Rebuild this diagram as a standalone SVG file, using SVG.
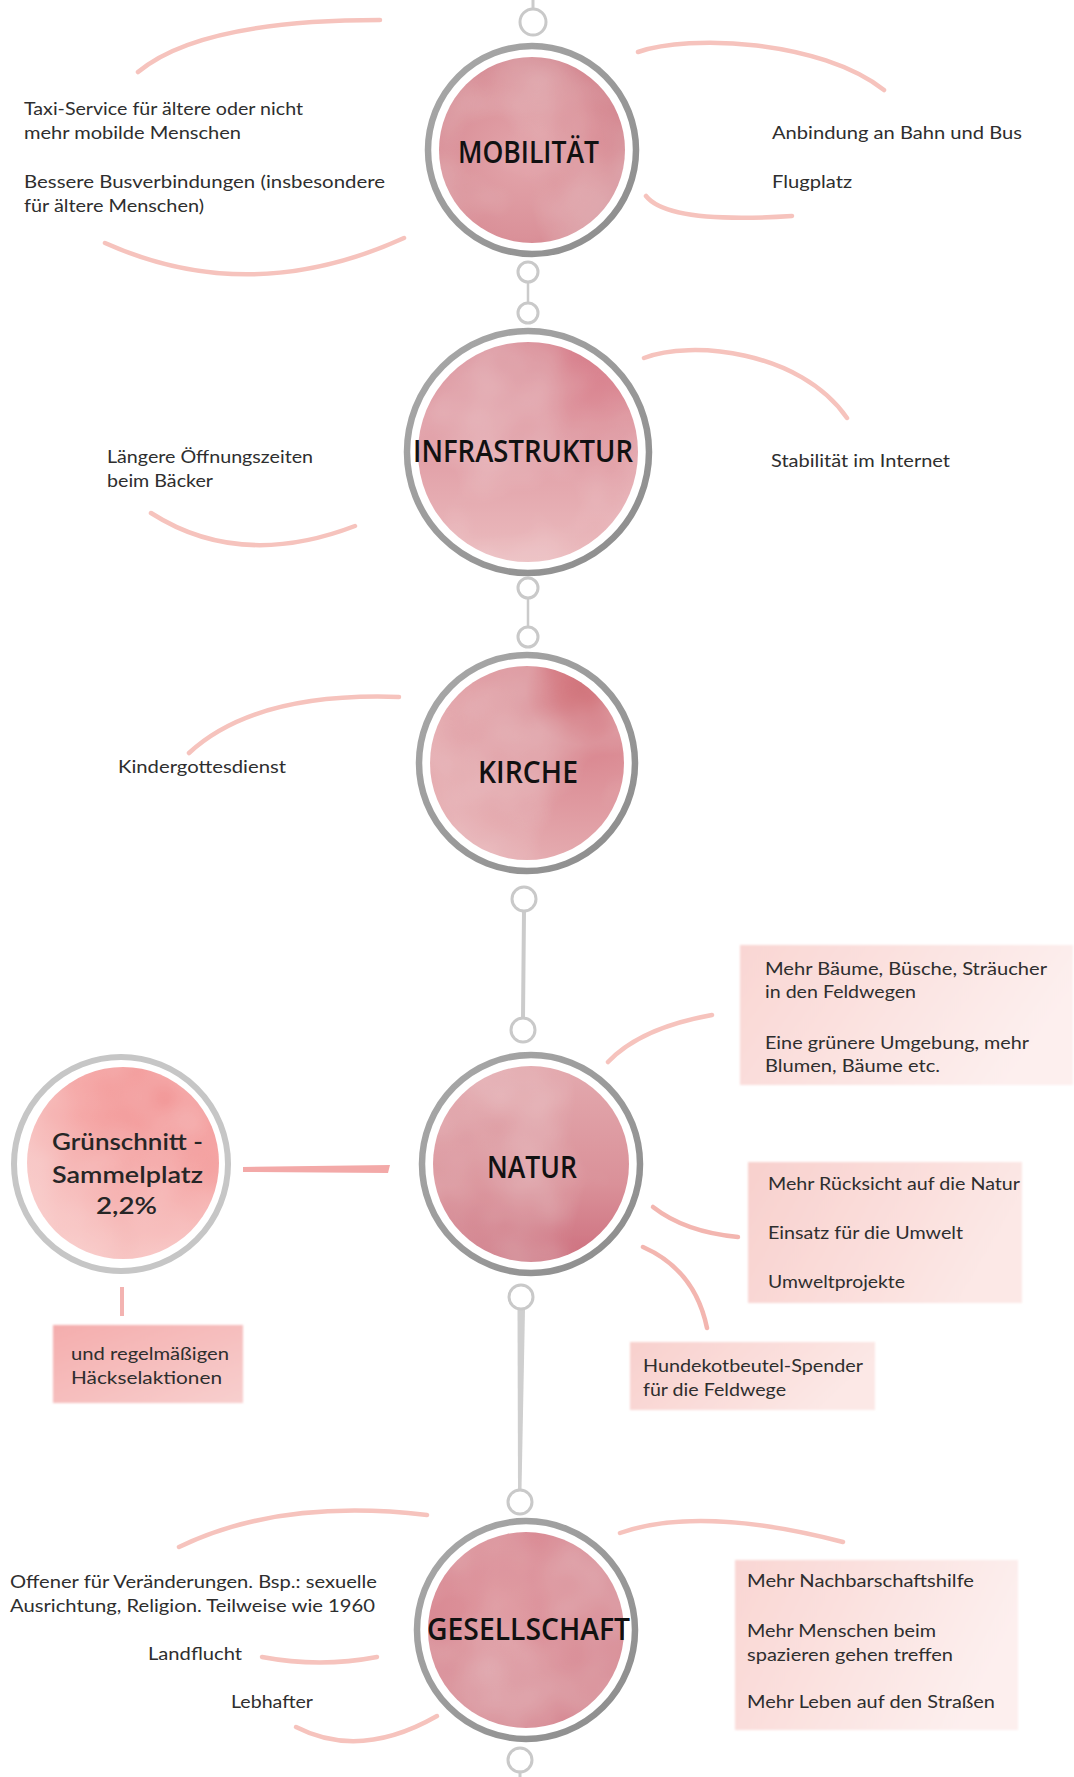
<svg xmlns="http://www.w3.org/2000/svg" width="1074" height="1777" viewBox="0 0 1074 1777">
<style>
.lbl{font-family:Lato,"Open Sans","Liberation Sans",sans-serif;font-size:18px;fill:#2e2e2e}
.hd{font-family:"Open Sans","Noto Sans","Liberation Sans",sans-serif;font-size:30px;fill:#111;font-weight:600}
.gr{font-family:Lato,"Open Sans","Liberation Sans",sans-serif;font-size:22px;fill:#262626;font-weight:600}
.ring{fill:#fff;stroke:url(#gring);stroke-width:6.5}
.chain{fill:#fff;stroke:#c9c9c9;stroke-width:3}
.cl{stroke:#cbcbcb;stroke-linecap:round;fill:none}
.arc{fill:none;stroke:#f6c3bd;stroke-width:4.5;stroke-linecap:round}
.arc2{fill:none;stroke:#f3b6b0;stroke-width:4.5;stroke-linecap:round}
</style>
<defs>
<linearGradient id="gring" x1="0" y1="0" x2="1" y2="1">
<stop offset="0" stop-color="#a9a9a9"/><stop offset="1" stop-color="#8c8c8c"/>
</linearGradient>
<radialGradient id="gMob" cx="0.45" cy="0.55" r="0.6">
<stop offset="0" stop-color="#e3a5ab"/><stop offset="0.7" stop-color="#da9199"/><stop offset="1" stop-color="#d2828c"/>
</radialGradient>
<linearGradient id="gInfra" x1="0" y1="0" x2="0" y2="1">
<stop offset="0" stop-color="#d57583"/><stop offset="0.45" stop-color="#e09ca4"/><stop offset="1" stop-color="#ebbcbf"/>
</linearGradient>
<radialGradient id="gKir" cx="0.78" cy="0.12" r="0.95">
<stop offset="0" stop-color="#c83e4d"/><stop offset="0.3" stop-color="#d9868f"/><stop offset="1" stop-color="#e6afb3"/>
</radialGradient>
<linearGradient id="gNat" x1="0" y1="0" x2="0" y2="1">
<stop offset="0" stop-color="#e3a9ae"/><stop offset="0.6" stop-color="#da9199"/><stop offset="1" stop-color="#cd6f7e"/>
</linearGradient>
<radialGradient id="gGes" cx="0.4" cy="0.35" r="0.7">
<stop offset="0" stop-color="#de949c"/><stop offset="1" stop-color="#d5838e"/>
</radialGradient>
<radialGradient id="gGrun" cx="0.72" cy="0.18" r="0.95">
<stop offset="0" stop-color="#f07c7c"/><stop offset="0.45" stop-color="#f4a3a2"/><stop offset="1" stop-color="#f8cac8"/>
</radialGradient>
<linearGradient id="bHk" x1="0" y1="0" x2="1" y2="1">
<stop offset="0" stop-color="#f4adad"/><stop offset="1" stop-color="#f8cfce"/>
</linearGradient>
<linearGradient id="bLight" x1="0" y1="0" x2="1" y2="0.3">
<stop offset="0" stop-color="#f9d6d3"/><stop offset="1" stop-color="#fdefee"/>
</linearGradient>
<linearGradient id="bMid" x1="0" y1="0" x2="1" y2="0.3">
<stop offset="0" stop-color="#f8d0cd"/><stop offset="1" stop-color="#fce8e6"/>
</linearGradient>
<filter id="wc" x="0" y="0" width="1" height="1">
<feTurbulence type="fractalNoise" baseFrequency="0.009" numOctaves="3" seed="4" result="n"/>
<feColorMatrix in="n" type="matrix" values="0 0 0 0 1 0 0 0 0 1 0 0 0 0 1 0.45 0 0 0 -0.15" result="w"/>
<feComposite in="w" in2="SourceGraphic" operator="atop"/>
</filter>
<filter id="soft" x="-0.05" y="-0.1" width="1.1" height="1.2">
<feGaussianBlur stdDeviation="1.2"/>
</filter>
</defs>
<rect width="1074" height="1777" fill="#fff"/>

<g id="connectors">
<line class="cl" x1="533" y1="0" x2="533" y2="8" stroke-width="3"/>
<circle class="chain" cx="533" cy="22" r="13"/>
<line class="cl" x1="528" y1="282" x2="528" y2="303" stroke-width="2.5"/>
<circle class="chain" cx="528" cy="272" r="10"/>
<circle class="chain" cx="528" cy="313" r="10"/>
<line class="cl" x1="528" y1="598" x2="528" y2="627" stroke-width="2.5"/>
<circle class="chain" cx="528" cy="588" r="10"/>
<circle class="chain" cx="528" cy="637" r="10"/>
<line class="cl" x1="524" y1="911" x2="523" y2="1018" stroke-width="4"/>
<circle class="chain" cx="524" cy="899" r="12"/>
<circle class="chain" cx="523" cy="1030" r="12"/>
<path d="M517.5,1309 L525,1309 L521.5,1490 L518,1490 Z" fill="#cfcfcf"/>
<circle class="chain" cx="521" cy="1297" r="12"/>
<circle class="chain" cx="520" cy="1502" r="12"/>
<circle class="chain" cx="520" cy="1760" r="12"/>
<line class="cl" x1="520" y1="1772" x2="520" y2="1777" stroke-width="3"/>

<path class="arc" d="M138,72 Q200,20 380,20"/>
<path class="arc" d="M638,52 C690,34 820,40 884,90"/>
<path class="arc" d="M105,243 Q250,308 404,238"/>
<path class="arc" d="M646,196 Q668,224 792,216"/>
<path class="arc" d="M644,358 C690,340 800,350 847,418"/>
<path class="arc" d="M151,513 Q240,570 355,526"/>
<path class="arc" d="M189,753 Q255,692 399,697"/>
<path class="arc" d="M608,1062 Q640,1028 712,1015"/>
<path class="arc2" d="M653,1207 Q685,1232 738,1237"/>
<path class="arc2" d="M643,1247 Q695,1270 707,1328"/>
<path d="M243,1167 L390,1165 L388,1173 L243,1172 Z" fill="#f3a9a8"/>
<line x1="122" y1="1287" x2="122" y2="1316" stroke="#f3b3b1" stroke-width="4"/>
<path class="arc" d="M179,1547 Q280,1498 427,1515"/>
<path class="arc" d="M620,1533 Q700,1505 843,1542"/>
<path class="arc" d="M262,1657 Q320,1668 377,1657"/>
<path class="arc" d="M296,1727 Q360,1760 437,1716"/>
</g>

<g id="mobilitaet">
<circle class="ring" cx="532" cy="150" r="104"/>
<circle cx="532" cy="150" r="93" fill="url(#gMob)" filter="url(#wc)"/>
<text class="hd" x="458" y="163" textLength="141" lengthAdjust="spacingAndGlyphs">MOBILITÄT</text>
</g>
<g id="mob-links">
<text class="lbl" x="24" y="115" textLength="279" lengthAdjust="spacingAndGlyphs">Taxi-Service für ältere oder nicht</text>
<text class="lbl" x="24" y="139" textLength="217" lengthAdjust="spacingAndGlyphs">mehr mobilde Menschen</text>
<text class="lbl" x="24" y="188" textLength="361" lengthAdjust="spacingAndGlyphs">Bessere Busverbindungen (insbesondere</text>
<text class="lbl" x="24" y="212" textLength="180" lengthAdjust="spacingAndGlyphs">für ältere Menschen)</text>
</g>
<g id="mob-rechts">
<text class="lbl" x="772" y="139" textLength="250" lengthAdjust="spacingAndGlyphs">Anbindung an Bahn und Bus</text>
<text class="lbl" x="772" y="188" textLength="80" lengthAdjust="spacingAndGlyphs">Flugplatz</text>
</g>

<g id="infrastruktur">
<circle class="ring" cx="528" cy="452" r="121"/>
<circle cx="528" cy="452" r="110" fill="url(#gInfra)" filter="url(#wc)"/>
<text class="hd" x="413" y="462" textLength="220" lengthAdjust="spacingAndGlyphs">INFRASTRUKTUR</text>
</g>
<g id="infra-links">
<text class="lbl" x="107" y="463" textLength="206" lengthAdjust="spacingAndGlyphs">Längere Öffnungszeiten</text>
<text class="lbl" x="107" y="487" textLength="106" lengthAdjust="spacingAndGlyphs">beim Bäcker</text>
</g>
<g id="infra-rechts">
<text class="lbl" x="771" y="467" textLength="179" lengthAdjust="spacingAndGlyphs">Stabilität im Internet</text>
</g>

<g id="kirche">
<circle class="ring" cx="527" cy="763" r="108"/>
<circle cx="527" cy="763" r="97" fill="url(#gKir)" filter="url(#wc)"/>
<text class="hd" x="478" y="783" textLength="100" lengthAdjust="spacingAndGlyphs">KIRCHE</text>
</g>
<g id="kirche-links">
<text class="lbl" x="118" y="773" textLength="168" lengthAdjust="spacingAndGlyphs">Kindergottesdienst</text>
</g>

<g id="natur">
<circle class="ring" cx="531" cy="1164" r="109"/>
<circle cx="531" cy="1164" r="98" fill="url(#gNat)" filter="url(#wc)"/>
<text class="hd" x="487" y="1178" textLength="90" lengthAdjust="spacingAndGlyphs">NATUR</text>
</g>
<g id="gruenschnitt">
<circle cx="121" cy="1164" r="107" fill="#fff" stroke="#c6c6c6" stroke-width="6"/>
<circle cx="123" cy="1163" r="96" fill="url(#gGrun)" filter="url(#wc)"/>
<text class="gr" x="52" y="1150" textLength="151" lengthAdjust="spacingAndGlyphs">Grünschnitt -</text>
<text class="gr" x="52" y="1183" textLength="151" lengthAdjust="spacingAndGlyphs">Sammelplatz</text>
<text class="gr" x="96" y="1214" textLength="61" lengthAdjust="spacingAndGlyphs">2,2%</text>
</g>
<g id="haecksel">
<rect x="53" y="1325" width="190" height="78" fill="url(#bHk)" filter="url(#soft)"/>
<text class="lbl" x="71" y="1360" textLength="158" lengthAdjust="spacingAndGlyphs">und regelmäßigen</text>
<text class="lbl" x="71" y="1384" textLength="151" lengthAdjust="spacingAndGlyphs">Häckselaktionen</text>
</g>
<g id="natur-box1">
<rect x="740" y="945" width="333" height="140" fill="url(#bLight)" filter="url(#soft)"/>
<text class="lbl" x="765" y="975" textLength="282" lengthAdjust="spacingAndGlyphs">Mehr Bäume, Büsche, Sträucher</text>
<text class="lbl" x="765" y="998" textLength="151" lengthAdjust="spacingAndGlyphs">in den Feldwegen</text>
<text class="lbl" x="765" y="1049" textLength="264" lengthAdjust="spacingAndGlyphs">Eine grünere Umgebung, mehr</text>
<text class="lbl" x="765" y="1072" textLength="175" lengthAdjust="spacingAndGlyphs">Blumen, Bäume etc.</text>
</g>
<g id="natur-box2">
<rect x="748" y="1162" width="274" height="141" fill="url(#bMid)" filter="url(#soft)"/>
<text class="lbl" x="768" y="1190" textLength="252" lengthAdjust="spacingAndGlyphs">Mehr Rücksicht auf die Natur</text>
<text class="lbl" x="768" y="1239" textLength="195" lengthAdjust="spacingAndGlyphs">Einsatz für die Umwelt</text>
<text class="lbl" x="768" y="1288" textLength="137" lengthAdjust="spacingAndGlyphs">Umweltprojekte</text>
</g>
<g id="natur-box3">
<rect x="630" y="1342" width="245" height="68" fill="url(#bMid)" filter="url(#soft)"/>
<text class="lbl" x="643" y="1372" textLength="220" lengthAdjust="spacingAndGlyphs">Hundekotbeutel-Spender</text>
<text class="lbl" x="643" y="1396" textLength="143" lengthAdjust="spacingAndGlyphs">für die Feldwege</text>
</g>

<g id="gesellschaft">
<circle class="ring" cx="526" cy="1630" r="109"/>
<circle cx="526" cy="1630" r="98" fill="url(#gGes)" filter="url(#wc)"/>
<text class="hd" x="427" y="1640" textLength="203" lengthAdjust="spacingAndGlyphs">GESELLSCHAFT</text>
</g>
<g id="ges-links">
<text class="lbl" x="10" y="1588" textLength="367" lengthAdjust="spacingAndGlyphs">Offener für Veränderungen. Bsp.: sexuelle</text>
<text class="lbl" x="10" y="1612" textLength="365" lengthAdjust="spacingAndGlyphs">Ausrichtung, Religion. Teilweise wie 1960</text>
<text class="lbl" x="148" y="1660" textLength="94" lengthAdjust="spacingAndGlyphs">Landflucht</text>
<text class="lbl" x="231" y="1708" textLength="82" lengthAdjust="spacingAndGlyphs">Lebhafter</text>
</g>
<g id="ges-box">
<rect x="735" y="1560" width="283" height="170" fill="url(#bLight)" filter="url(#soft)"/>
<text class="lbl" x="747" y="1587" textLength="227" lengthAdjust="spacingAndGlyphs">Mehr Nachbarschaftshilfe</text>
<text class="lbl" x="747" y="1637" textLength="189" lengthAdjust="spacingAndGlyphs">Mehr Menschen beim</text>
<text class="lbl" x="747" y="1661" textLength="206" lengthAdjust="spacingAndGlyphs">spazieren gehen treffen</text>
<text class="lbl" x="747" y="1708" textLength="248" lengthAdjust="spacingAndGlyphs">Mehr Leben auf den Straßen</text>
</g>
</svg>
